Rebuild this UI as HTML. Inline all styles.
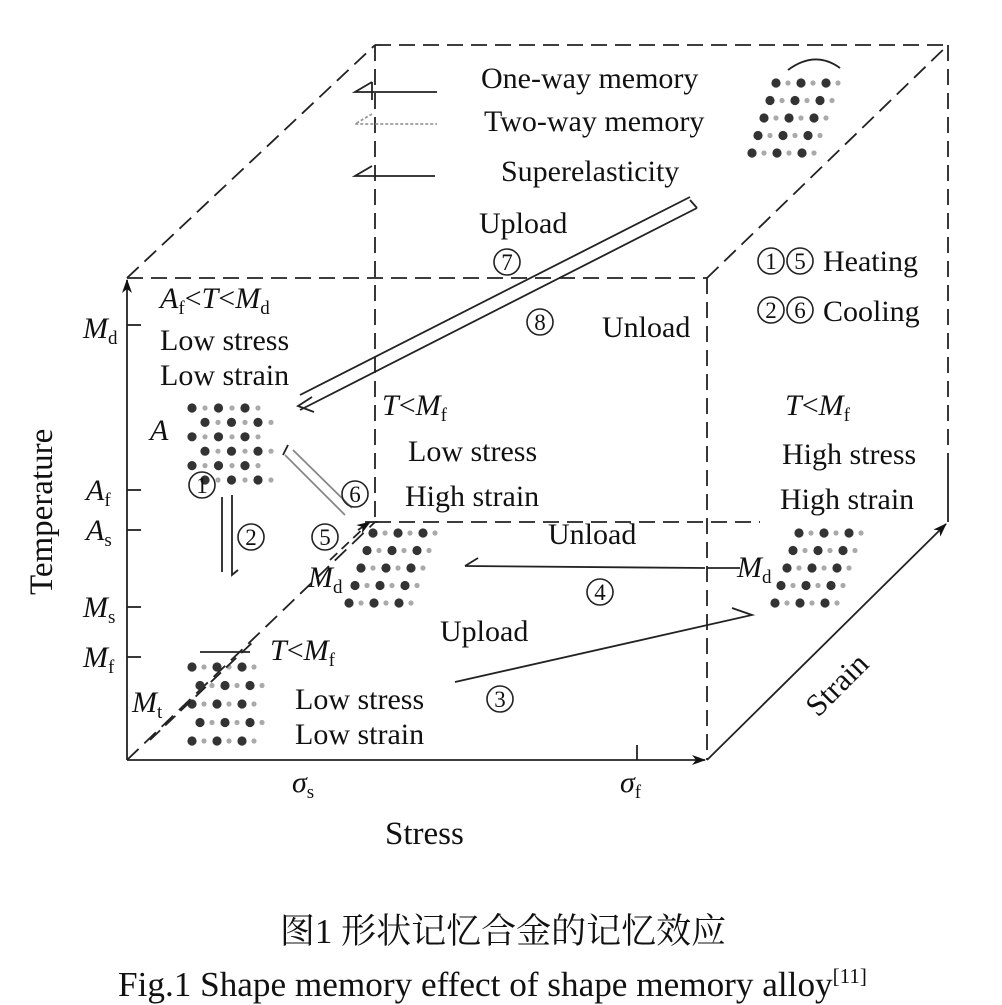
<!DOCTYPE html>
<html><head><meta charset="utf-8"><style>
html,body{margin:0;padding:0;background:#fff;width:1002px;height:1005px;overflow:hidden}
svg{display:block}
text{font-family:"Liberation Serif",serif;fill:#111}
.i{font-style:italic}
.cc circle{fill:none;stroke:#222;stroke-width:1.6}
.cc text{font-size:23px;text-anchor:middle}
</style></head><body>
<svg width="1002" height="1005" viewBox="0 0 1002 1005" xmlns="http://www.w3.org/2000/svg">
<defs>
<marker id="ar" markerWidth="14" markerHeight="10" refX="13" refY="5" orient="auto" markerUnits="userSpaceOnUse">
<path d="M0,0 L14,5 L0,10 L4,5 Z" fill="#111"/></marker>
<g id="row">
<circle cx="0" cy="0" r="4.6" fill="#333"/><circle cx="13" cy="0" r="2.6" fill="#aaa"/>
<circle cx="26.5" cy="0" r="4.6" fill="#333"/><circle cx="40" cy="0" r="2.6" fill="#aaa"/>
<circle cx="53" cy="0" r="4.6" fill="#333"/><circle cx="66" cy="0" r="2.6" fill="#aaa"/>
</g>
<g id="row4">
<circle cx="0" cy="0" r="4.6" fill="#333"/><circle cx="12" cy="0" r="2.6" fill="#aaa"/>
<circle cx="25" cy="0" r="4.6" fill="#333"/><circle cx="37" cy="0" r="2.6" fill="#aaa"/>
<circle cx="50" cy="0" r="4.6" fill="#333"/><circle cx="62" cy="0" r="2.6" fill="#aaa"/>
</g>
<g id="sq">
<use href="#row"/><use href="#row" transform="translate(13,14.4)"/>
<use href="#row" transform="translate(0,28.8)"/><use href="#row" transform="translate(13,43.2)"/>
<use href="#row" transform="translate(0,57.6)"/><use href="#row" transform="translate(13,72)"/>
</g>
<g id="sq2">
<use href="#row4"/><use href="#row4" transform="translate(8,18.5)"/>
<use href="#row4" transform="translate(0,37)"/><use href="#row4" transform="translate(8,55.5)"/>
<use href="#row4" transform="translate(0,74)"/>
</g>
<g id="par">
<use href="#row4" transform="translate(24,0)"/><use href="#row4" transform="translate(18,17.5)"/>
<use href="#row4" transform="translate(12,35)"/><use href="#row4" transform="translate(6,52.5)"/>
<use href="#row4" transform="translate(0,70)"/>
</g>
</defs>
<g stroke="#222" stroke-width="1.8" fill="none">
<g stroke-dasharray="16,8">
<line x1="127" y1="278" x2="707" y2="278"/>
<line x1="707" y1="278" x2="707" y2="760"/>
<line x1="375" y1="45" x2="948" y2="45"/>
<line x1="375" y1="45" x2="375" y2="522"/>
<line x1="948" y1="45" x2="948" y2="460"/>
<line x1="375" y1="522" x2="760" y2="522"/>
<line x1="127" y1="278" x2="375" y2="45"/>
<line x1="707" y1="278" x2="948" y2="45"/>
<line x1="127" y1="760" x2="375" y2="522"/>
</g>
<line x1="948" y1="460" x2="948" y2="522"/>
<line x1="127" y1="760" x2="127" y2="280" marker-end="url(#ar)"/>
<line x1="127" y1="760" x2="705" y2="760" marker-end="url(#ar)"/>
<line x1="707" y1="760" x2="946" y2="524" marker-end="url(#ar)"/>
<line x1="127" y1="325" x2="141" y2="325"/>
<line x1="127" y1="490" x2="141" y2="490"/>
<line x1="127" y1="530" x2="141" y2="530"/>
<line x1="127" y1="607" x2="141" y2="607"/>
<line x1="127" y1="657" x2="141" y2="657"/>
<line x1="637" y1="745" x2="637" y2="760"/>
<line x1="707" y1="568" x2="740" y2="568"/>
<path d="M372,82 L355,92 H437 M372,82 V100"/>
<path d="M372,114 L355,124 H437" stroke="#999" stroke-dasharray="3,2"/>
<path d="M372,166 L355,176 H435"/>
<path d="M300,395 L690,197"/>
<path d="M300,410 L697,208 M697,208 L690,200"/>
<path d="M312,397 L298,406 L314,412"/>
<path d="M222,497 V572"/><path d="M232,495 V575 L238,570"/>
<path d="M285,455 L345,515" stroke="#888"/>
<path d="M293,450 L352,508" stroke="#888"/>
<path d="M283,455 L288,445"/>
<line x1="330" y1="560" x2="368" y2="524" stroke-dasharray="10,6"/>
<line x1="358" y1="530" x2="370" y2="522" marker-end="url(#ar)"/>
<line x1="365" y1="522" x2="378" y2="522"/>
<path d="M465,566 L705,568"/><path d="M478,558 L465,566"/>
<path d="M455,682 L752,615 L732,608"/>
<path d="M788,70 Q815,50 840,68"/>
<line x1="200" y1="652" x2="250" y2="652"/>
</g>
<use href="#sq" transform="translate(192,408)"/>
<use href="#par" transform="translate(349,533)"/>
<use href="#par" transform="translate(775,533)"/>
<use href="#par" transform="translate(752,83)"/>
<use href="#sq2" transform="translate(192,667)"/>
<line x1="150" y1="740" x2="255" y2="640" stroke="#222" stroke-width="1.8" stroke-dasharray="14,7"/>
<g class="cc">
<circle cx="507" cy="262" r="13"/><text x="507" y="270">7</text>
<circle cx="540" cy="322" r="13"/><text x="540" y="330">8</text>
<circle cx="771" cy="261" r="13"/><text x="771" y="269">1</text>
<circle cx="800" cy="261" r="13"/><text x="800" y="269">5</text>
<circle cx="771" cy="310" r="13"/><text x="771" y="318">2</text>
<circle cx="800" cy="310" r="13"/><text x="800" y="318">6</text>
<circle cx="202" cy="485" r="13"/><text x="202" y="493">1</text>
<circle cx="251" cy="537" r="13"/><text x="251" y="545">2</text>
<circle cx="355" cy="494" r="13"/><text x="355" y="502">6</text>
<circle cx="325" cy="537" r="13"/><text x="325" y="545">5</text>
<circle cx="600" cy="592" r="13"/><text x="600" y="600">4</text>
<circle cx="500" cy="699" r="13"/><text x="500" y="707">3</text>
</g>
<g font-size="30">
<text x="481" y="88">One-way memory</text>
<text x="484" y="131">Two-way memory</text>
<text x="501" y="181">Superelasticity</text>
<text x="479" y="233">Upload</text>
<text x="602" y="337">Unload</text>
<text x="823" y="271">Heating</text>
<text x="823" y="321">Cooling</text>
<text x="160" y="308"><tspan class="i">A</tspan><tspan font-size="19" dy="6">f</tspan><tspan dy="-6">&lt;</tspan><tspan class="i">T</tspan>&lt;<tspan class="i">M</tspan><tspan font-size="19" dy="6">d</tspan></text>
<text x="160" y="350">Low stress</text>
<text x="160" y="385">Low strain</text>
<text x="83" y="338" class="i">M<tspan font-size="19" font-style="normal" dy="6">d</tspan></text>
<text x="86" y="500" class="i">A<tspan font-size="19" font-style="normal" dy="6">f</tspan></text>
<text x="86" y="540" class="i">A<tspan font-size="19" font-style="normal" dy="6">s</tspan></text>
<text x="83" y="617" class="i">M<tspan font-size="19" font-style="normal" dy="6">s</tspan></text>
<text x="83" y="667" class="i">M<tspan font-size="19" font-style="normal" dy="6">f</tspan></text>
<text x="150" y="440" class="i">A</text>
<text x="308" y="587" class="i">M<tspan font-size="19" font-style="normal" dy="6">d</tspan></text>
<text x="382" y="415" class="i">T<tspan font-style="normal">&lt;</tspan>M<tspan font-size="19" font-style="normal" dy="6">f</tspan></text>
<text x="408" y="461">Low stress</text>
<text x="405" y="506">High strain</text>
<text x="548" y="544">Unload</text>
<text x="440" y="641">Upload</text>
<text x="785" y="415" class="i">T<tspan font-style="normal">&lt;</tspan>M<tspan font-size="19" font-style="normal" dy="6">f</tspan></text>
<text x="782" y="464">High stress</text>
<text x="780" y="509">High strain</text>
<text x="737" y="577" class="i">M<tspan font-size="19" font-style="normal" dy="6">d</tspan></text>
<text x="270" y="660" class="i">T<tspan font-style="normal">&lt;</tspan>M<tspan font-size="19" font-style="normal" dy="6">f</tspan></text>
<text x="295" y="709">Low stress</text>
<text x="295" y="744">Low strain</text>
<text x="132" y="712" class="i">M<tspan font-size="19" font-style="normal" dy="6">t</tspan></text>
<text x="292" y="792" class="i">σ<tspan font-size="19" font-style="normal" dy="6">s</tspan></text>
<text x="620" y="792" class="i">σ<tspan font-size="19" font-style="normal" dy="6">f</tspan></text>
<text x="385" y="844" font-size="33">Stress</text>
<text transform="translate(52,595) rotate(-90)" font-size="33">Temperature</text>
<text transform="translate(818,718) rotate(-45)" font-size="31">Strain</text>
<text x="503" y="943" text-anchor="middle" font-size="35" style="font-family:'Liberation Serif','Noto Serif CJK SC',serif">图1  形状记忆合金的记忆效应</text>
<text x="118" y="996" font-size="35.2">Fig.1  Shape memory effect of shape memory alloy<tspan font-size="21" dy="-13">[11]</tspan></text>
</g>
</svg>
</body></html>
